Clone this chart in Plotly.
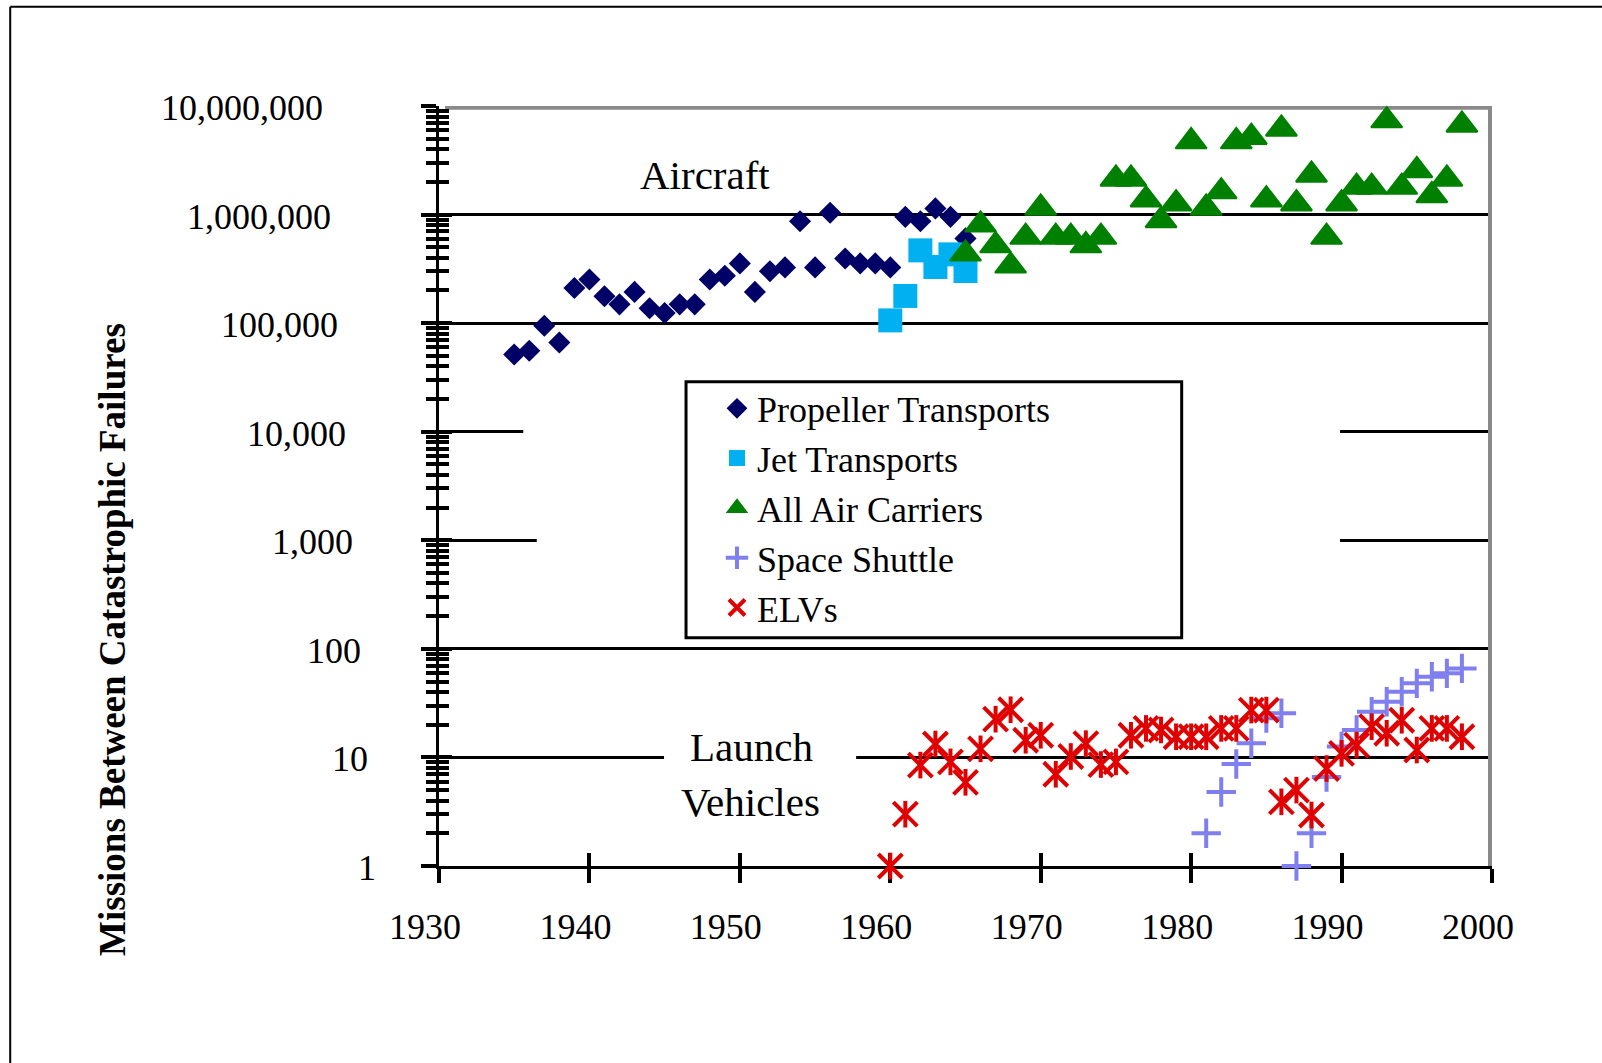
import math
import plotly.graph_objects as go

# ---------------- data ----------------
prop_years = [1935, 1936, 1937, 1938, 1939, 1940, 1941, 1942, 1943, 1944, 1945,
              1946, 1947, 1948, 1949, 1950, 1951, 1952, 1953, 1954, 1955, 1956,
              1957, 1958, 1959, 1960, 1961, 1962, 1963, 1964, 1965]
prop_values = [51500, 55600, 94500, 66400, 211000, 252000, 177000, 149000, 194000,
               137000, 124000, 149000, 149000, 252000, 273000, 355000, 194000,
               301000, 326000, 869000, 326000, 1040000, 394000, 355000, 355000,
               326000, 953000, 869000, 1140000, 953000, 603000]

jet_years = [1960, 1961, 1962, 1963, 1964, 1965]
jet_values = [106000, 178000, 468000, 329000, 430000, 302000]

air_years = [1965, 1966, 1967, 1968, 1969, 1970, 1971, 1972, 1973, 1974, 1975,
             1976, 1977, 1978, 1979, 1980, 1981, 1982, 1983, 1984, 1985, 1986,
             1987, 1988, 1989, 1990, 1991, 1992, 1993, 1994, 1995, 1996, 1997, 1998]
air_values = [435000, 804000, 519000, 337000, 620000, 1150000, 620000, 620000,
              519000, 620000, 2130000, 2130000, 1370000, 883000, 1260000, 4710000,
              1150000, 1630000, 4710000, 5160000, 1370000, 6150000, 1260000,
              2320000, 620000, 1260000, 1790000, 1790000, 7350000, 1790000,
              2550000, 1500000, 2130000, 6700000]

shuttle_years = [1981, 1982, 1983, 1984, 1985, 1986, 1987, 1988, 1989, 1990,
                 1991, 1992, 1993, 1994, 1995, 1996, 1997, 1998]
shuttle_values = [2, 4.8, 8.7, 13.5, 23, 25.5, 1, 2, 6.6, 12.6, 17.9, 26.4,
                  32.6, 40.3, 48.1, 55.3, 59.5, 66.1]

elv_years = [1960, 1961, 1962, 1963, 1964, 1965, 1966, 1967, 1968, 1969, 1970,
             1971, 1972, 1973, 1974, 1975, 1976, 1977, 1978, 1979, 1980, 1981,
             1982, 1983, 1984, 1985, 1986, 1987, 1988, 1989, 1990, 1991, 1992,
             1993, 1994, 1995, 1996, 1997, 1998]
elv_values = [1, 3.0, 8.5, 13.3, 9.1, 5.9, 12, 22.5, 27.5, 14.4, 16, 7.0, 10.2,
              13.4, 8.6, 9.1, 16, 18.5, 17.9, 15.5, 15.5, 15.5, 18.5, 18.5,
              27.3, 27.3, 3.9, 5.0, 2.95, 7.9, 10.9, 13, 19.2, 16.7, 22, 11.7,
              18.5, 18.5, 15.5]

x_tick_values = [1930, 1940, 1950, 1960, 1970, 1980, 1990, 2000]
x_tick_labels = ["1930", "1940", "1950", "1960", "1970", "1980", "1990", "2000"]
y_tick_values = [1, 10, 100, 1000, 10000, 100000, 1000000, 10000000]
y_tick_labels = ["1", "10", "100", "1,000", "10,000", "100,000", "1,000,000", "10,000,000"]

series_names = ["Propeller Transports", "Jet Transports", "All Air Carriers",
                "Space Shuttle", "ELVs"]

# ---------------- styles ----------------
SERIF = "Liberation Serif, Times New Roman, serif"
NAVY = "#000066"
CYAN = "#00B0F0"
GREEN = "#008000"
LAV = "#7F7FEF"
RED = "#E00000"

minor_vals = [k * 10 ** d for d in range(7) for k in range(2, 10)]

fig = go.Figure()
fig.add_trace(go.Scatter(x=prop_years, y=prop_values, mode="markers", name=series_names[0],
                         marker=dict(symbol="diamond", size=17, color=NAVY),
                         cliponaxis=False))
fig.add_trace(go.Scatter(x=jet_years, y=jet_values, mode="markers", name=series_names[1],
                         marker=dict(symbol="square", size=24, color=CYAN),
                         cliponaxis=False))
fig.add_trace(go.Scatter(x=air_years, y=air_values, mode="markers", name=series_names[2],
                         marker=dict(symbol="triangle-up", size=27, color=GREEN,
                                     line=dict(color=GREEN, width=2)),
                         cliponaxis=False))
fig.add_trace(go.Scatter(x=shuttle_years, y=shuttle_values, mode="markers", name=series_names[3],
                         marker=dict(symbol="cross-thin-open", size=21, color=LAV,
                                     line=dict(color=LAV, width=4)),
                         cliponaxis=False))
fig.add_trace(go.Scatter(x=elv_years, y=elv_values, mode="markers", name=series_names[4],
                         marker=dict(symbol="x-thin-open", size=24, color=RED,
                                     line=dict(color=RED, width=4)),
                         cliponaxis=False, legendgroup="elv"))
fig.add_trace(go.Scatter(x=elv_years, y=elv_values, mode="markers", name=series_names[4],
                         marker=dict(symbol="line-ns-open", size=19, color=RED,
                                     line=dict(color=RED, width=4)),
                         cliponaxis=False, showlegend=False, legendgroup="elv"))
# helper trace so the overlaid tick axes are drawn
fig.add_trace(go.Scatter(x=[x_tick_values[0]], y=[y_tick_values[0]], xaxis="x2", yaxis="y2",
                         mode="markers", marker=dict(opacity=0), showlegend=False,
                         hoverinfo="skip"))

annotations = []
# y tick labels (slightly staggered as in the original)
for v, lab in zip(y_tick_values, y_tick_labels):
    L = math.log10(v)
    gap = 61 + 7.57 * L
    annotations.append(dict(xref="paper", yref="y", x=0, y=L, text=lab, showarrow=False,
                            xanchor="right", yanchor="middle", xshift=-gap, yshift=-2,
                            font=dict(family=SERIF, size=36, color="black")))
annotations += [
    dict(xref="x", yref="y", x=1947.7, y=6.366, text="Aircraft", showarrow=False,
         xanchor="center", yanchor="middle", font=dict(family=SERIF, size=41, color="black")),
    dict(xref="x", yref="y", x=1950.8, y=1.096, text="Launch", showarrow=False,
         xanchor="center", yanchor="middle", font=dict(family=SERIF, size=41, color="black")),
    dict(xref="x", yref="y", x=1950.7, y=0.589, text="Vehicles", showarrow=False,
         xanchor="center", yanchor="middle", font=dict(family=SERIF, size=41, color="black")),
    dict(xref="paper", yref="paper", x=-0.3102, y=0.2979,
         text="<b>Missions Between Catastrophic Failures</b>", textangle=-90,
         showarrow=False, xanchor="center", yanchor="middle",
         font=dict(family=SERIF, size=37, color="black")),
]

shapes = [
    # white breaks in the gridlines (shape coordinates are data values on the log axis)
    dict(type="rect", xref="x", yref="y", x0=1935.6, x1=1989.9, y0=10 ** 3.9, y1=10 ** 4.1,
         fillcolor="white", line=dict(width=0), layer="between"),
    dict(type="rect", xref="x", yref="y", x0=1936.5, x1=1989.9, y0=10 ** 2.9, y1=10 ** 3.1,
         fillcolor="white", line=dict(width=0), layer="between"),
    dict(type="rect", xref="x", yref="y", x0=1944.96, x1=1957.73, y0=10 ** 0.9, y1=10 ** 1.1,
         fillcolor="white", line=dict(width=0), layer="between"),
    # gray plot-area border (top and right)
    dict(type="rect", xref="x", yref="y", x0=1930.4, x1=2000, y0=10 ** 6.965, y1=1e7,
         fillcolor="#8a8a8a", line=dict(width=0), layer="between"),
    dict(type="rect", xref="x", yref="y", y0=1, y1=1e7, xsizemode="pixel",
         xanchor=2000, x0=-4, x1=2, fillcolor="#8a8a8a", line=dict(width=0), layer="between"),
    # legend box
    dict(type="rect", xref="paper", yref="paper", x0=0.2346, x1=0.7053, y0=0.3004, y1=0.6372,
         fillcolor="white", line=dict(color="black", width=3), layer="above"),
    # outer frame
    dict(type="line", xref="paper", yref="paper", x0=-0.4072, x1=-0.4072, y0=-0.4, y1=1.1307,
         line=dict(color="black", width=2), layer="above"),
    dict(type="line", xref="paper", yref="paper", x0=-0.4072, x1=1.2, y0=1.1307, y1=1.1307,
         line=dict(color="black", width=2), layer="above"),
]

fig.update_layout(
    width=1602, height=1063, autosize=False,
    margin=dict(l=439, r=110, t=106, b=197, pad=0),
    paper_bgcolor="white", plot_bgcolor="white",
    showlegend=True,
    legend=dict(x=0.2640, y=0.6416, xanchor="left", yanchor="top",
                bgcolor="rgba(0,0,0,0)", borderwidth=0,
                font=dict(family=SERIF, size=36, color="black"),
                itemsizing="trace", tracegroupgap=0),
    xaxis=dict(type="linear", range=[1930, 2000], tickmode="array",
               tickvals=x_tick_values, ticktext=x_tick_labels,
               ticks="outside", ticklen=14, tickwidth=4, tickcolor="black",
               showline=True, linecolor="black", linewidth=3,
               showgrid=False, zeroline=False, layer="below traces",
               tickfont=dict(family=SERIF, size=36, color="black"),
               ticklabelshift=-14, ticklabelstandoff=13),
    xaxis2=dict(type="linear", overlaying="x", anchor="y2", side="bottom",
                range=[1930, 2000], tickmode="array", tickvals=x_tick_values,
                ticks="inside", ticklen=13, tickwidth=4, tickcolor="black",
                showticklabels=False, showline=False, showgrid=False,
                zeroline=False, layer="below traces"),
    yaxis=dict(type="log", range=[0, 7], tickmode="array", tickvals=y_tick_values,
               ticks="outside", ticklen=15, tickwidth=4, tickcolor="black",
               showticklabels=False, showline=True, linecolor="black", linewidth=3,
               showgrid=True, gridcolor="black", gridwidth=3, zeroline=False,
               layer="below traces",
               minor=dict(tickvals=minor_vals, ticks="outside", ticklen=10,
                          tickwidth=4, tickcolor="black", showgrid=False)),
    yaxis2=dict(type="log", overlaying="y", anchor="x2", side="left", range=[0, 7],
                tickmode="array", tickvals=y_tick_values,
                ticks="inside", ticklen=13, tickwidth=4, tickcolor="black",
                showticklabels=False, showline=False, showgrid=False,
                zeroline=False, layer="below traces",
                minor=dict(tickvals=minor_vals, ticks="inside", ticklen=10,
                           tickwidth=4, tickcolor="black", showgrid=False)),
    annotations=annotations,
    shapes=shapes,
    hovermode=False,
)

fig.write_html("out.html", config={"displayModeBar": False},
               post_script="document.body.style.margin='0';document.body.style.overflow='hidden';")
